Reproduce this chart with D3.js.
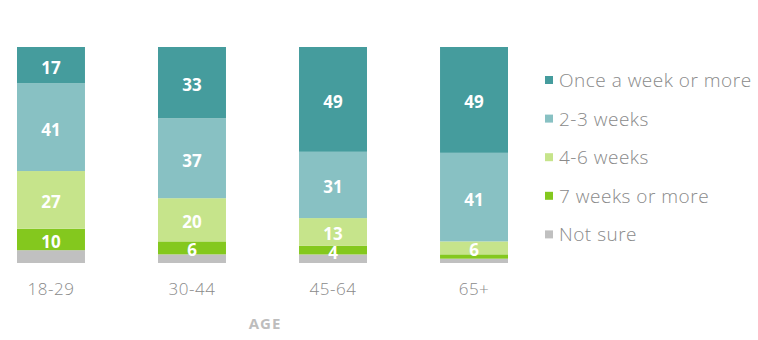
<!DOCTYPE html>
<html>
<head>
<meta charset="utf-8">
<script src="https://cdn.jsdelivr.net/npm/d3@7"></script>
<style>
  html, body { margin: 0; padding: 0; background: #fff; }
  svg { display: block; }
</style>
</head>
<body>
<svg id="chart" width="758" height="340"></svg>
<script>
const categories = ["18-29", "30-44", "45-64", "65+"];
const seriesNames = ["Once a week or more", "2-3 weeks", "4-6 weeks", "7 weeks or more", "Not sure"];
const onceAWeek = [17, 33, 49, 49];
const twoThreeWeeks = [41, 37, 31, 41];
const fourSixWeeks = [27, 20, 13, 6];
const sevenWeeksPlus = [10, 6, 4, 2];
const notSure = [6, 4, 4, 2];
const colors = ["#459c9d", "#88c1c3", "#c6e48b", "#84c81e", "#c0c0c0"];
const axisTitle = "AGE";

const seriesValues = [onceAWeek, twoThreeWeeks, fourSixWeeks, sevenWeeksPlus, notSure];
const keys = seriesNames;
const rows = categories.map((c, i) => {
  const r = { cat: c };
  keys.forEach((k, j) => r[k] = seriesValues[j][i]);
  return r;
});

const svg = d3.select("#chart");

const x = d3.scaleBand().domain(categories).range([17, 508]).paddingInner(0.518).paddingOuter(0);
const y = d3.scaleLinear().domain([0, 1]).range([263, 47]);
const color = d3.scaleOrdinal().domain(keys).range(colors);

// stack bottom-up: Not sure at the bottom
const stackOrder = keys.slice().reverse();
const stack = d3.stack().keys(stackOrder).offset(d3.stackOffsetExpand);
const stacked = stack(rows);

const g = svg.append("g");
const layers = g.selectAll("g.layer").data(stacked).enter().append("g")
  .attr("class", "layer")
  .attr("fill", d => color(d.key));

layers.selectAll("rect").data(d => d.map(p => ({ p, key: d.key }))).enter().append("rect")
  .attr("x", d => x(d.p.data.cat))
  .attr("width", x.bandwidth())
  .attr("y", d => y(d.p[1]))
  .attr("height", d => y(d.p[0]) - y(d.p[1]));

// value labels
const labelLayers = stacked.filter(s => s.key !== "Not sure");
labelLayers.forEach(s => {
  s.forEach(p => {
    const v = p.data[s.key];
    if (v < 4) return;
    g.append("text")
      .attr("x", x(p.data.cat) + x.bandwidth() / 2)
      .attr("y", (y(p[0]) + y(p[1])) / 2 + 2)
      .attr("text-anchor", "middle")
      .attr("dominant-baseline", "central")
      .attr("font-family", "'Open Sans', Lato, sans-serif")
      .attr("font-weight", 700)
      .attr("font-size", 17)
      .attr("fill", "#fff")
      .text(v);
  });
});

// x axis
const xAxis = d3.axisBottom(x).tickSize(0).tickPadding(0);
const ax = svg.append("g").attr("transform", "translate(0,288)").call(xAxis);
ax.select(".domain").remove();
ax.selectAll("text")
  .attr("font-family", "'Open Sans', Lato, sans-serif")
  .attr("font-weight", 300)
  .attr("font-size", 17)
  .attr("letter-spacing", 0.5)
  .attr("fill", "#8a8a8a")
  .attr("dy", null)
  .attr("dominant-baseline", "central");

svg.append("text")
  .attr("x", 265)
  .attr("y", 323)
  .attr("text-anchor", "middle")
  .attr("dominant-baseline", "central")
  .attr("font-family", "'Open Sans', Lato, sans-serif")
  .attr("font-weight", 700)
  .attr("font-size", 15)
  .attr("letter-spacing", 1)
  .attr("fill", "#bdbdbd")
  .text(axisTitle);

// legend
const legend = svg.append("g").attr("transform", "translate(545,80)");
const li = legend.selectAll("g").data(keys).enter().append("g")
  .attr("transform", (d, i) => `translate(0,${i * 38.6})`);
li.append("rect").attr("x", 0).attr("y", -4).attr("width", 8).attr("height", 8).attr("fill", d => color(d));
li.append("text")
  .attr("x", 14)
  .attr("y", 0)
  .attr("dominant-baseline", "central")
  .attr("font-family", "'Open Sans', Lato, sans-serif")
  .attr("font-weight", 300)
  .attr("font-size", 19)
  .attr("letter-spacing", 0.5)
  .attr("fill", "#8a8a8a")
  .text(d => d);
</script>
</body>
</html>
